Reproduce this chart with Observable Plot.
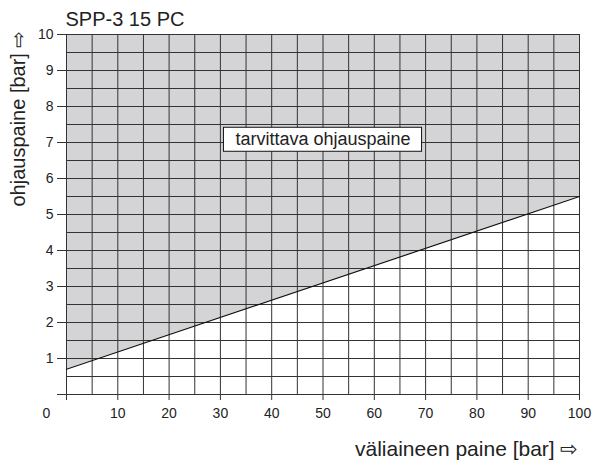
<!DOCTYPE html>
<html><head><meta charset="utf-8">
<script src="https://cdn.jsdelivr.net/npm/d3@7"></script>
<script src="https://cdn.jsdelivr.net/npm/@observablehq/plot@0.6"></script>
<style>body{margin:0;background:#fff}</style>
</head><body>
<script>
const title = "SPP-3 15 PC";
const xLabel = "väliaineen paine [bar] ⇨";
const yLabel = "ohjauspaine [bar] ⇨";
const regionLabel = "tarvittava ohjauspaine";
const lineX = [0, 100];
const lineY = [0.7, 5.5];
const xGrid = [0,5,10,15,20,25,30,35,40,45,50,55,60,65,70,75,80,85,90,95,100];
const yGrid = [0,0.5,1,1.5,2,2.5,3,3.5,4,4.5,5,5.5,6,6.5,7,7.5,8,8.5,9,9.5,10];
const xTicks = [0,10,20,30,40,50,60,70,80,90,100];
const yTicks = [0,1,2,3,4,5,6,7,8,9,10];
const labelX = [50];
const labelY = [7];

const lineData = lineX.map((x, i) => ({x, y: lineY[i]}));
const font = "'Liberation Sans', Arial, sans-serif";
const ink = "#222";
const gridColor = "#333";

const chart = Plot.plot({
  width: 595,
  height: 461,
  marginLeft: 66,
  marginRight: 16,
  marginTop: 34,
  marginBottom: 67,
  style: {fontFamily: font, fontSize: "14px", background: "#fff", color: ink},
  x: {domain: [0, 100]},
  y: {domain: [0, 10]},
  marks: [
    Plot.areaY(lineData, {x: "x", y1: "y", y2: 10, fill: "#d4d4d6"}),
    Plot.ruleX(xGrid, {x: d => d, y1: 0, y2: 10, stroke: gridColor, strokeWidth: 1}),
    Plot.ruleY(yGrid, {y: d => d, x1: 0, x2: 100, stroke: gridColor, strokeWidth: 1}),
    Plot.line(lineData, {x: "x", y: "y", stroke: "#111", strokeWidth: 1.2}),
    Plot.axisX({ticks: xTicks, tickSize: 6, tickPadding: 8, stroke: gridColor, fill: ink,
      fontSize: 14, tickFormat: d => d === 0 ? "" : String(d), label: null}),
    Plot.axisY({ticks: yTicks, tickSize: 9, tickPadding: 4, stroke: gridColor, fill: ink,
      fontSize: 14, tickFormat: d => d === 0 ? "" : String(d), label: null}),
    Plot.text([xTicks[0]], {x: d => d, y: yTicks[0], text: d => String(d), dx: -20, dy: 14,
      lineAnchor: "top", fontSize: 14, fill: ink}),
    Plot.text([title], {frameAnchor: "top-left", text: d => d, textAnchor: "start",
      lineAnchor: "bottom", dx: -1, dy: -9, fontSize: 20, fill: ink}),
    Plot.text([xLabel], {frameAnchor: "bottom-right", text: d => d, textAnchor: "end",
      lineAnchor: "bottom", dx: -1, dy: 61, fontSize: 21, fill: ink}),
    Plot.text([yLabel], {frameAnchor: "top-left", text: d => d, textAnchor: "end",
      lineAnchor: "bottom", rotate: -90, dx: -42, dy: -4, fontSize: 20, fill: ink}),
    Plot.text(labelX.map((x, i) => ({x, y: labelY[i], t: regionLabel})),
      {x: "x", y: "y", text: "t", fontSize: 18, fill: ink, dy: -3, className: "region-label"})
  ]
});
document.body.append(chart);

// white box with border behind region label
const g = chart.querySelector(".region-label");
if (g) {
  g.querySelectorAll("text").forEach(t => {
    const b = t.getBBox();
    const r = document.createElementNS("http://www.w3.org/2000/svg", "rect");
    r.setAttribute("x", b.x - 12);
    r.setAttribute("y", b.y - 2);
    r.setAttribute("width", b.width + 23);
    r.setAttribute("height", b.height + 4);
    r.setAttribute("fill", "#fff");
    r.setAttribute("stroke", "#111");
    r.setAttribute("stroke-width", 1);
    const tr = t.getAttribute("transform");
    if (tr) r.setAttribute("transform", tr);
    t.parentNode.insertBefore(r, t);
  });
}
</script>
</body></html>
